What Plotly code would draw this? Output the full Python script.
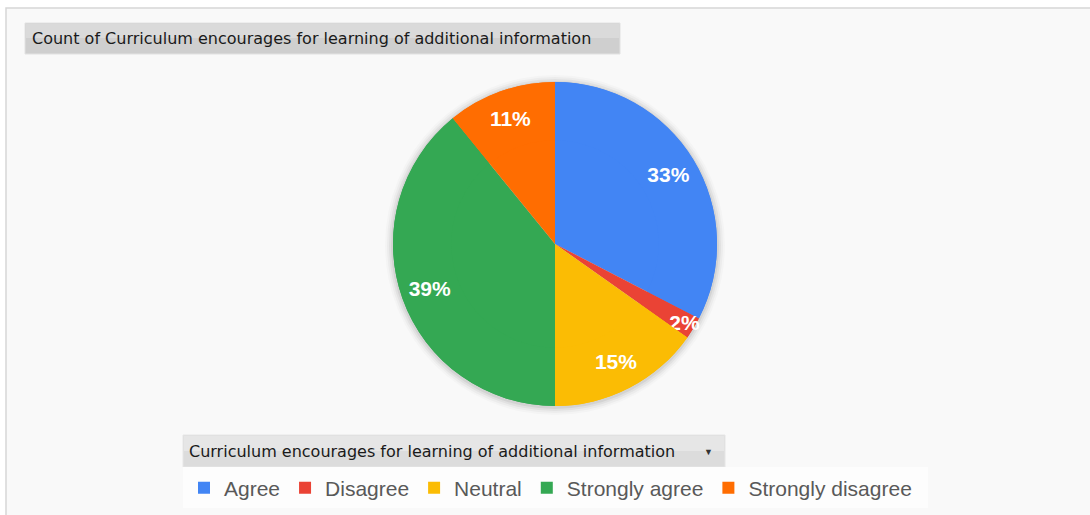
import plotly.graph_objects as go

# ── Data ────────────────────────────────────────────────────────────────
CATEGORIES = ["Agree", "Disagree", "Neutral", "Strongly agree", "Strongly disagree"]
COUNTS = [15, 1, 7, 18, 5]
SLICE_COLORS = ["#4285F4", "#EA4335", "#FBBC04", "#34A853", "#FF6D01"]

TITLE = "Count of Curriculum encourages for learning of additional information"
FIELD = "Curriculum encourages for learning of additional information"

W, H = 1090, 515


def px_x(v):
    return v / W


def px_y(v):
    return 1 - v / H


# pie placement (pixels)
CX, CY, R = 555, 244, 162
PIE_DOMAIN = dict(x=[px_x(CX - R), px_x(CX + R)], y=[px_y(CY + R), px_y(CY - R)])

fig = go.Figure()

# solid pie (no labels)
fig.add_trace(go.Pie(
    labels=CATEGORIES,
    values=COUNTS,
    sort=False,
    direction="clockwise",
    rotation=0,
    marker=dict(colors=SLICE_COLORS, line=dict(width=0)),
    textinfo="none",
    domain=PIE_DOMAIN,
    hoverinfo="label+value+percent",
))

# same pie as a ring on top - only used to push the % labels out toward the rim
fig.add_trace(go.Pie(
    labels=CATEGORIES,
    values=COUNTS,
    sort=False,
    direction="clockwise",
    rotation=0,
    hole=0.64,
    marker=dict(colors=SLICE_COLORS, line=dict(width=0)),
    texttemplate="%{percent:.0%}",
    textposition="inside",
    insidetextorientation="horizontal",
    textfont=dict(color="white", size=21, family="Liberation Sans", weight="bold"),
    domain=PIE_DOMAIN,
    hoverinfo="label+value+percent",
    showlegend=False,
))

shapes = [
    # chart panel
    dict(type="rect", xref="paper", yref="paper", x0=px_x(6), x1=px_x(1100), y0=px_y(525), y1=px_y(8),
         fillcolor="#f9f9f9", line=dict(color="#d6d6d6", width=1.5), layer="below"),
    # title box
    dict(type="rect", xref="paper", yref="paper", x0=px_x(25), x1=px_x(620), y0=px_y(54), y1=px_y(23),
         fillcolor="#cfcfcf", line=dict(color="#e2e2e2", width=1), layer="below"),
    dict(type="rect", xref="paper", yref="paper", x0=px_x(26), x1=px_x(619), y0=px_y(38), y1=px_y(24),
         fillcolor="#dadada", line=dict(width=0), layer="below"),
    # field header box
    dict(type="rect", xref="paper", yref="paper", x0=px_x(183), x1=px_x(725), y0=px_y(467), y1=px_y(435),
         fillcolor="#dcdcdc", line=dict(color="#e6e6e6", width=1), layer="below"),
    dict(type="rect", xref="paper", yref="paper", x0=px_x(184), x1=px_x(724), y0=px_y(451), y1=px_y(436),
         fillcolor="#e6e6e6", line=dict(width=0), layer="below"),
    # legend row
    dict(type="rect", xref="paper", yref="paper", x0=px_x(183), x1=px_x(928), y0=px_y(508), y1=px_y(467),
         fillcolor="#fdfdfd", line=dict(width=0), layer="below"),
]

# soft shadow round the pie
for pad, alpha in [(8, 0.02), (6, 0.03), (4, 0.045), (2, 0.06)]:
    shapes.append(dict(
        type="circle", xref="paper", yref="paper",
        x0=px_x(CX - R - pad), x1=px_x(CX + R + pad),
        y0=px_y(CY + R + pad + 1), y1=px_y(CY - R - pad + 1),
        fillcolor=f"rgba(0,0,0,{alpha})", line=dict(width=0), layer="below",
    ))

fig.update_layout(
    width=W,
    height=H,
    margin=dict(l=0, r=0, t=0, b=0),
    paper_bgcolor="#ffffff",
    plot_bgcolor="#ffffff",
    font=dict(family="Liberation Sans, Arial, sans-serif", color="#595959"),
    uniformtext=dict(minsize=21, mode="show"),
    shapes=shapes,
    showlegend=True,
    legend=dict(
        orientation="h",
        x=px_x(184), xanchor="left",
        y=px_y(488), yanchor="middle",
        font=dict(size=21, color="#595959", family="Liberation Sans"),
        bgcolor="rgba(0,0,0,0)",
        itemclick=False,
    ),
    annotations=[
        dict(text=TITLE, xref="paper", yref="paper", x=px_x(30), y=px_y(39),
             xanchor="left", yanchor="middle", showarrow=False,
             font=dict(size=16, color="#1a1a1a", family="DejaVu Sans")),
        dict(text=FIELD, xref="paper", yref="paper", x=px_x(187), y=px_y(451),
             xanchor="left", yanchor="middle", showarrow=False,
             font=dict(size=16, color="#1a1a1a", family="DejaVu Sans")),
        dict(text="▼", xref="paper", yref="paper", x=px_x(708), y=px_y(452),
             xanchor="center", yanchor="middle", showarrow=False,
             font=dict(size=9, color="#333333")),
    ],
)

# drop the browser's default 8px body margin so the figure sits at 0,0
fig.write_html("out.html", config={"displayModeBar": False},
               post_script="document.body.style.margin='0';")
